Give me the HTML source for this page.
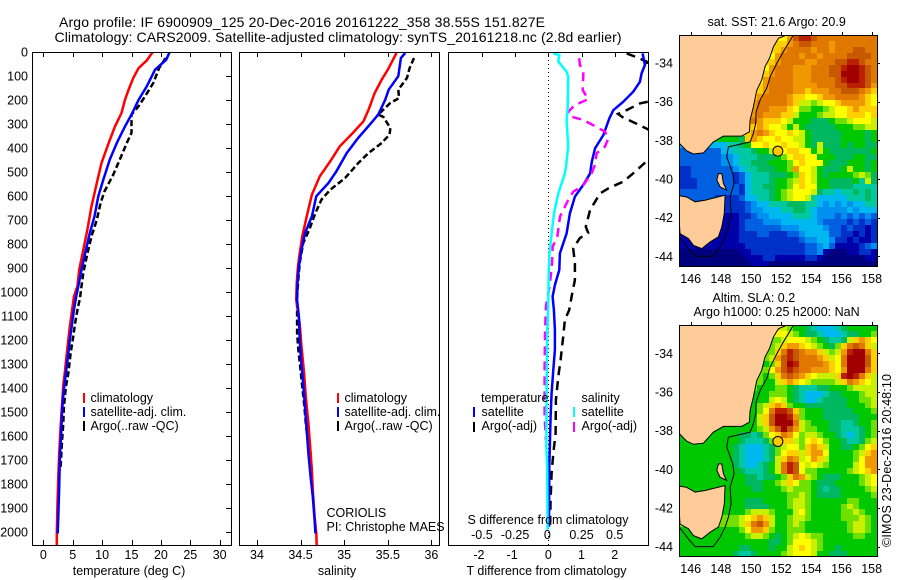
<!DOCTYPE html>
<html>
<head>
<meta charset="utf-8">
<title>Argo profile</title>
<style>
html,body{margin:0;padding:0;background:#fff;}
svg{display:block;}
text{font-family:"Liberation Sans",sans-serif;font-size:12.5px;fill:#000;}
.title{font-size:14px;}
</style>
</head>
<body>
<svg id="chart" xmlns="http://www.w3.org/2000/svg" width="900" height="580" viewBox="0 0 900 580">
<defs>
<clipPath id="clip-temp"><rect x="33" y="52" width="198" height="493"/></clipPath>
<clipPath id="clip-sal"><rect x="240" y="52" width="199" height="493"/></clipPath>
<clipPath id="clip-diff"><rect x="449" y="52" width="199" height="493"/></clipPath>
<clipPath id="clip-sst"><rect x="679" y="35" width="198" height="232"/></clipPath>
<clipPath id="clip-sla"><rect x="679" y="325" width="198" height="232"/></clipPath>
</defs>
<text class="title" x="59" y="27" textLength="486">Argo profile: IF 6900909_125 20-Dec-2016 20161222_358 38.55S 151.827E</text>
<text class="title" x="54.5" y="42" textLength="567">Climatology: CARS2009. Satellite-adjusted climatology: synTS_20161218.nc (2.8d earlier)</text>

<g id="layer-heat"></g>
<g id="layer-series"></g>

<rect x="32.5" y="52.5" width="199" height="493" fill="none" stroke="#000" stroke-width="1"/>
<rect x="239.5" y="52.5" width="200" height="493" fill="none" stroke="#000" stroke-width="1"/>
<rect x="448.5" y="52.5" width="200" height="493" fill="none" stroke="#000" stroke-width="1"/>
<rect x="679.5" y="35.5" width="198" height="231" fill="none" stroke="#000" stroke-width="1"/>
<rect x="679.5" y="325.5" width="198" height="231" fill="none" stroke="#000" stroke-width="1"/>
<g id="layer-axes"></g>

<text x="129" y="575" text-anchor="middle">temperature (deg C)</text>
<text x="337" y="575" text-anchor="middle">salinity</text>
<text x="466.5" y="575">T difference from climatology</text>
<text x="467.5" y="524">S difference from climatology</text>

<g>
<rect x="83" y="393" width="2" height="10" fill="#f00"/>
<text x="90.5" y="402">climatology</text>
<rect x="83" y="407" width="2" height="10" fill="#00f"/>
<text x="90.5" y="416">satellite-adj. clim.</text>
<rect x="83" y="421" width="2" height="10" fill="#000"/>
<text x="90.5" y="430">Argo(..raw -QC)</text>
</g>
<g>
<rect x="337" y="393" width="2" height="10" fill="#f00"/>
<text x="344.5" y="402">climatology</text>
<rect x="337" y="407" width="2" height="10" fill="#00f"/>
<text x="344.5" y="416">satellite-adj. clim.</text>
<rect x="337" y="421" width="2" height="10" fill="#000"/>
<text x="344.5" y="430">Argo(..raw -QC)</text>
</g>
<text x="326.5" y="517">CORIOLIS</text>
<text x="326.5" y="531">PI: Christophe MAES</text>
<g>
<text x="481" y="402">temperature</text>
<rect x="473" y="407" width="2" height="10" fill="#00f"/>
<text x="481.5" y="416">satellite</text>
<rect x="473" y="422" width="2" height="10" fill="#000"/>
<text x="481.5" y="430">Argo(-adj)</text>
<text x="581.5" y="402">salinity</text>
<rect x="573" y="407" width="2" height="10" fill="#0ff"/>
<text x="581.5" y="416">satellite</text>
<rect x="573" y="422" width="2" height="10" fill="#f0f"/>
<text x="581.5" y="430">Argo(-adj)</text>
</g>

<text x="707.5" y="26">sat. SST: 21.6 Argo: 20.9</text>
<text x="712.5" y="302">Altim. SLA: 0.2</text>
<text x="693.5" y="316">Argo h1000: 0.25 h2000: NaN</text>
<text transform="translate(891,547) rotate(-90)" textLength="173">©IMOS 23-Dec-2016 20:48:10</text>
</svg>

<script>
var depthTicks = [0,100,200,300,400,500,600,700,800,900,1000,1100,1200,1300,1400,1500,1600,1700,1800,1900,2000];
var tempTicks = [0,5,10,15,20,25,30];
var salTicks = [34,34.5,35,35.5,36];
var salTickLabels = ["34","34.5","35","35.5","36"];
var tDiffTicks = [-2,-1,0,1,2];
var sDiffTicks = [-0.5,-0.25,0,0.25,0.5];
var sDiffTickLabels = ["-0.5","-0.25","0","0.25","0.5"];
var lonTicks = [146,148,150,152,154,156,158];
var latTicks = [34,36,38,40,42,44];

var tempClimD = [0,35,67,108,157,199,254,310,380,463,546,643,740,824,907,976,1019,1075,1144,1200,1256,1325,1388,1464,1561,1672,1769,1894,2005,2054];
var tempClimV = [18.6,17.6,16.2,15.3,14.5,13.9,13.3,12.2,11.1,9.9,9.1,8.2,7.5,6.8,6.1,5.8,5.2,4.9,4.5,4.25,4.0,3.7,3.4,3.2,2.95,2.7,2.55,2.4,2.3,2.3];
var tempSatD = [0,32,74,143,199,261,310,379,449,532,601,685,754,824,907,976,1025,1075,1131,1200,1256,1339,1408,1492,1589,1700,1811,1936,2006];
var tempSatV = [21.5,20.9,19,17.6,16.2,15,13.9,12.5,11.3,10.2,9.35,8.7,7.9,7.25,6.5,5.95,5.55,5.2,4.9,4.5,4.25,3.85,3.5,3.2,3.05,2.8,2.7,2.55,2.45];
var tempArgoD = [25,67,129,185,226,261,337,379,449,511,581,629,699,768,851,921,976,1025,1075,1131,1200,1256,1339,1394,1478,1547,1617,1686,1742];
var tempArgoV = [20.8,19.7,18.7,17.3,16.2,15,15,14.2,13,11.9,10.4,9.75,9.1,8.2,7.4,6.8,6.5,6.25,5.8,5.4,5,4.65,4.25,3.85,3.5,3.4,3.2,3.05,2.9];

var salClimD = [4,32,74,115,171,240,289,337,393,456,518,594,685,768,838,893,963,1032,1131,1228,1339,1436,1492,1547,1645,1742,1825,1936,2006,2056];
var salClimV = [35.6,35.56,35.5,35.43,35.35,35.28,35.22,35.1,34.95,34.84,34.72,34.63,34.57,34.52,34.49,34.47,34.455,34.45,34.49,34.51,34.54,34.56,34.575,34.59,34.61,34.63,34.64,34.66,34.68,34.685];
var salSatD = [4,25,101,157,199,261,296,358,421,497,546,601,685,754,824,893,963,1032,1103,1200,1283,1381,1478,1575,1672,1770,1853,1950,2006];
var salSatV = [35.7,35.65,35.62,35.51,35.47,35.39,35.31,35.16,35.03,34.91,34.82,34.68,34.63,34.55,34.51,34.48,34.465,34.46,34.48,34.49,34.505,34.53,34.55,34.57,34.59,34.615,34.64,34.66,34.67];
var salArgoD = [25,67,108,157,192,212,261,271,317,344,379,421,463,525,574,615,671,740,796,879,963,1025,1103,1172,1242,1311,1381,1464,1547,1645,1742];
var salArgoV = [35.8,35.75,35.72,35.62,35.63,35.53,35.39,35.45,35.53,35.52,35.43,35.28,35.16,35.01,34.84,34.74,34.67,34.6,34.53,34.49,34.47,34.46,34.46,34.46,34.475,34.495,34.515,34.54,34.56,34.59,34.615];

var diffTSatD = [6,54,89,124,165,207,242,276,346,401,457,506,554,603,672,756,839,908,971,1019,1075,1158,1241,1325,1422,1519,1616,1728,1978];
var diffTSatV = [2.84,2.91,2.81,2.76,2.56,2.26,1.96,1.84,1.66,1.41,1.31,1.26,1.05,0.8,0.65,0.55,0.35,0.33,0.2,0.13,0.17,0.2,0.2,0.15,0.1,0.07,0.05,0.03,0.02];
var diffTArgoD = [6,19,40,54,117,207,214,242,258,272,286,322,388,450,499,540,568,589,658,728,753,776,818,881,950,1006,1075,1116,1186,1283,1352,1450,1589,1672,1755,1866,1978];
var diffTArgoV = [2.36,2.61,2.96,3.0,3.5,3.0,2.76,2.36,2.1,2.24,2.46,3.0,3.6,3.0,2.61,2.26,1.81,1.56,1.26,1.13,1.2,0.95,0.75,0.8,0.8,0.72,0.63,0.5,0.45,0.37,0.3,0.23,0.22,0.15,0.1,0.07,0.05];
var diffSSatD = [6,13,40,82,103,228,283,394,478,506,589,672,756,839,922,1033,1172,1380,1644,1728,1991];
var diffSSatV = [0.038,0.083,0.075,0.138,0.15,0.146,0.138,0.15,0.133,0.125,0.075,0.043,0.025,0.008,0.003,0,-0.008,-0.012,-0.015,-0.008,-0.005];
var diffSArgoD = [26,54,82,158,197,221,249,267,283,332,360,394,422,471,506,554,582,617,658,686,769,811,881,964,1061,1172,1311,1519,1616];
var diffSArgoV = [0.233,0.238,0.264,0.259,0.3,0.2,0.15,0.158,0.264,0.427,0.452,0.427,0.364,0.351,0.326,0.264,0.188,0.15,0.113,0.088,0.068,0.033,0.028,0.013,-0.018,-0.025,-0.028,-0.028,-0.018];

var heatLevels = ["0","1","2","3","4","5","6","7","8","9","a","b","c","d","e","f","g","h"];
var heatColours = ["#00007f","#0000a8","#0030c8","#0060e0","#0090f0","#00b8f0","#00c8a0","#00b860","#00c800","#70e000","#c8f000","#ffff00","#ffd000","#f09800","#e07800","#c85800","#b82000","#a00000"];

var sstGrid = [
".................bdfggfeeeeeeeeee",
".................cdeffeeedeeeeeee",
"................cdeeeedeedeeeffee",
"...............bdeeedeedeeeeffffe",
"...............cdeeeeddeeeffggfee",
"..............bdeeedddeeeffghhgfe",
"..............cdeeedddeeeffhhhgfe",
".............bdeeeedddeeeefghhgfe",
".............cdeeeeddddeeeffgggfd",
"............bcdeeeeddcdddeefffedc",
"............cdeeeedccbbcddeeeedcb",
"...........bdeeeeedcaa9abbcddddcb",
"...........cdeedddcb99889abbcdccc",
"...........ddedddcca8889aabbcccbc",
"..........bdedcccba888777899abbba",
"..........bccdcbba8a87777788899aa",
".........abcdedcbbcba877777888878",
".........87cdcbbcbbaa877777888878",
".......56678bbcbbcbba87a777878877",
"......355666788abbccbb8a877777778",
"....33344566677789bccbb8887778877",
"3333333445667778889bcbbb877788878",
"2233333334566777889dbba87778a8878",
"22333333323566677789cba8788889a97",
"2223333332356667889acba88777786a7",
"2223333333256677889bcbb8877776666",
"3333333.3325666789abbba7665667676",
"333333222235566789abba65555566676",
".........223455666777665454545566",
".........223445556677654444454555",
".........122344555566654443434343",
".........123334445555554333323232",
".........123333334445555433232212",
".........122233222334555533221212",
".........122222222223445542212112",
".........112222222222334531111234",
"000000000011222222222334100011221",
"000000000001112211111221000000011",
"000000000000111000000000000000000"
];

var slaGrid = [
".................a988765556788888",
".................ba98776555677889",
"................9abbba987667acdcb",
"...............9acddcba9879cefeca",
"...............9cegfeddca9adghhec",
"..............9adfgfeeedcabehhhfc",
"..............89cfhgeeeedcbehhhfc",
"..............9bdfgfeedddcbdhhhec",
".............989cefedcbaaacghgeca",
".............988acdcba9999acedcba",
"............98889987666778889aaaa",
"............8889998765556778889aa",
"............888aba87655677778899a",
"...........889acdc98877777778889a",
"...........889beggfc9888777778889",
"...........88acfhhgd9888777777888",
"...........88acfhhhea988877667889",
"88888888888889adfhfda998877666789",
"888888888877679bcedb9aa9887656789",
"8888888888766679acca9bcb98876679a",
"88888888876555679abb9cdca887789bc",
"88888888876555679bccacddb88889acd",
"8888888887655567acedabdca88889bdd",
"8888888887655678aegfbaba98888abdd",
"8888888888766678aegfb99888889abcd",
"888888888887767789ceda987778889abc",
"88888888888777889acb99877788889ab",
".........888778889a9998767788889a",
".........88888888899a987777888889",
".........8877788889aa988888899888",
".........8877778889aa9888889a9888",
".........889aaa9888ab98888899a988",
".........9abcdca889aa988888999a98",
".........9acefda889a988888889aa98",
".........89bddc98899988888889aa98",
".........889aa98789aba99888889988",
"8888888888888887789bbba9888888888",
"888888888877888788abcba9887888888",
"888888888766788889abbba8877788888"
];

var mainlandLon = [145.25,152.37,151.82,151.49,151.22,150.93,150.71,150.38,150.16,149.94,149.89,149.38,148.17,147.5,146.84,146.18,145.73,145.25];
var mainlandLat = [32.55,32.55,32.72,33.15,33.76,34.19,34.88,35.4,36.26,36.95,37.56,37.78,37.78,38.08,38.65,38.71,38.54,38.16];
var tasmaniaLon = [145.25,145.73,146.29,146.95,148.28,148.23,148.06,147.84,147.28,146.73,146.18,145.85,145.29,145.25];
var tasmaniaLat = [40.87,40.93,41.18,41.1,40.84,41.79,42.48,42.99,43.26,43.6,43.43,43.08,42.83,42.31];
var flindersLon = [147.84,148.06,148.17,148.39,147.95,147.73];
var flindersLat = [39.72,39.72,40.23,40.58,40.41,40.06];
var contourLon = [152.81,152.48,152.15,151.71,151.27,151.04,150.6,150.34,150.31,150.16,149.94,149.27,148.5,148.39,148.79,148.88,148.61,148.68,148.5,148.28,147.95,147.5,146.29,145.85,145.25];
var contourLat = [32.55,32.98,33.41,34.02,34.71,35.31,35.92,36.52,37.13,37.64,38.08,38.2,38.34,38.85,39.72,40.23,40.93,41.79,42.48,43.0,43.52,44.0,44.0,43.6,43.0];
var argoLon = 151.78;
var argoLat = 38.56;

var NS = "http://www.w3.org/2000/svg";
var heatLayer = document.getElementById("layer-heat");
var seriesLayer = document.getElementById("layer-series");
var axesLayer = document.getElementById("layer-axes");

function yDepth(d){ return 52 + d * 0.24; }
function xTemp(t){ return 43.3 + t * 5.88; }
function xSal(s){ return 257 + (s - 34) * 87.2; }
function xDiffT(t){ return 548.3 + t * 33.2; }
function xDiffS(s){ return 548.3 + s * 132.8; }
function xLon(lon){ return 690.7 + (lon - 146) * 15.08; }
function yLatSst(lat){ return 63 + (lat - 34) * 19.33; }
function yLatSla(lat){ return 353.3 + (lat - 34) * 19.33; }

function tickMark(x1, y1, x2, y2){
  var el = document.createElementNS(NS, "line");
  el.setAttribute("x1", x1);
  el.setAttribute("y1", y1);
  el.setAttribute("x2", x2);
  el.setAttribute("y2", y2);
  el.setAttribute("stroke", "#000");
  el.setAttribute("stroke-width", "1");
  el.setAttribute("shape-rendering", "crispEdges");
  
  
  axesLayer.appendChild(el);
}
function tickLabel(x, y, str, anchor){
  var el = document.createElementNS(NS, "text");
  el.setAttribute("x", x);
  el.setAttribute("y", y);
  el.setAttribute("text-anchor", anchor);
  el.textContent = str;
  
  
  axesLayer.appendChild(el);
}
function profile(depths, values, xf, colour, dash, width, clip, name){
  var pts = [];
  for (var i = 0; i < depths.length; i++) {
    pts.push(xf(values[i]).toFixed(1) + "," + yDepth(depths[i]).toFixed(1));
  }
  var el = document.createElementNS(NS, "polyline");
  el.setAttribute("points", pts.join(" "));
  el.setAttribute("fill", "none");
  el.setAttribute("stroke", colour);
  el.setAttribute("stroke-width", width);
  if (dash) { el.setAttribute("stroke-dasharray", dash); }
  el.setAttribute("clip-path", "url(#" + clip + ")");
  
  
  seriesLayer.appendChild(el);
}
function polyPoints(lons, lats, yf){
  var pts = [];
  for (var i = 0; i < lons.length; i++) {
    pts.push(xLon(lons[i]).toFixed(1) + "," + yf(lats[i]).toFixed(1));
  }
  return pts.join(" ");
}
function landShape(lons, lats, yf, clip, name){
  var el = document.createElementNS(NS, "polygon");
  el.setAttribute("points", polyPoints(lons, lats, yf));
  el.setAttribute("fill", "#ffcc99");
  el.setAttribute("stroke", "#000");
  el.setAttribute("stroke-width", "1");
  el.setAttribute("clip-path", "url(#" + clip + ")");
  
  
  heatLayer.appendChild(el);
}
function drawMap(grid, top, yf, clip){
  var cw = 6, ch = 231.7 / grid.length;
  for (var r = 0; r < grid.length; r++) {
    var row = grid[r];
    var fillChar = row.replace(/\./g, "").charAt(0);
    for (var c = 0; c < 33; c++) {
      var ch0 = row.charAt(c);
      var level = heatLevels.indexOf(ch0 === "." || ch0 === "" ? fillChar : ch0);
      var cell = document.createElementNS(NS, "rect");
      var y0 = Math.round(top + r * ch);
      var y1 = Math.round(top + (r + 1) * ch);
      cell.setAttribute("x", 679 + c * cw);
      cell.setAttribute("y", y0);
      cell.setAttribute("width", cw);
      cell.setAttribute("height", y1 - y0);
      cell.setAttribute("fill", heatColours[level]);
      cell.setAttribute("shape-rendering", "crispEdges");
      
      
      heatLayer.appendChild(cell);
    }
  }
  landShape(mainlandLon, mainlandLat, yf, clip, "mainland-australia");
  landShape(tasmaniaLon, tasmaniaLat, yf, clip, "tasmania");
  landShape(flindersLon, flindersLat, yf, clip, "flinders-island");
  var contour = document.createElementNS(NS, "polyline");
  contour.setAttribute("points", polyPoints(contourLon, contourLat, yf));
  contour.setAttribute("fill", "none");
  contour.setAttribute("stroke", "#000");
  contour.setAttribute("stroke-width", "1");
  contour.setAttribute("clip-path", "url(#" + clip + ")");
  
  
  heatLayer.appendChild(contour);
  var dot = document.createElementNS(NS, "circle");
  dot.setAttribute("cx", xLon(argoLon));
  dot.setAttribute("cy", yf(argoLat));
  dot.setAttribute("r", "5");
  dot.setAttribute("fill", "#ffc800");
  dot.setAttribute("stroke", "#000");
  dot.setAttribute("stroke-width", "1");
  
  
  heatLayer.appendChild(dot);
}

drawMap(sstGrid, 35, yLatSst, "clip-sst");
drawMap(slaGrid, 325.3, yLatSla, "clip-sla");

var zeroLine = document.createElementNS(NS, "line");
zeroLine.setAttribute("x1", xDiffT(0));
zeroLine.setAttribute("x2", xDiffT(0));
zeroLine.setAttribute("y1", 52);
zeroLine.setAttribute("y2", 545);
zeroLine.setAttribute("stroke", "#000");
zeroLine.setAttribute("stroke-width", "1");
zeroLine.setAttribute("stroke-dasharray", "1 3");
zeroLine.setAttribute("shape-rendering", "crispEdges");


seriesLayer.appendChild(zeroLine);

profile(tempArgoD, tempArgoV, xTemp, "#000", "6 3", "2.5", "clip-temp", "temperature-argo-line");
profile(tempClimD, tempClimV, xTemp, "#f00", "", "2.5", "clip-temp", "temperature-climatology-line");
profile(tempSatD, tempSatV, xTemp, "#00f", "", "2.5", "clip-temp", "temperature-satellite-line");
profile(salArgoD, salArgoV, xSal, "#000", "6 3", "2.5", "clip-sal", "salinity-argo-line");
profile(salClimD, salClimV, xSal, "#f00", "", "2.5", "clip-sal", "salinity-climatology-line");
profile(salSatD, salSatV, xSal, "#00f", "", "2.5", "clip-sal", "salinity-satellite-line");
profile(diffTArgoD, diffTArgoV, xDiffT, "#000", "9 6", "2.5", "clip-diff", "t-difference-argo-line");
profile(diffTSatD, diffTSatV, xDiffT, "#00f", "", "2.5", "clip-diff", "t-difference-satellite-line");
profile(diffSArgoD, diffSArgoV, xDiffS, "#f0f", "9 6", "2.5", "clip-diff", "s-difference-argo-line");
profile(diffSSatD, diffSSatV, xDiffS, "#0ff", "", "2.5", "clip-diff", "s-difference-satellite-line");

depthTicks.forEach(function(d){
  var y = Math.round(yDepth(d)) + 0.5;
  tickLabel(28, yDepth(d) + 4.5, String(d), "end");
  tickMark(226, y, 231, y);
});
tempTicks.forEach(function(t){
  var x = Math.round(xTemp(t)) + 0.5;
  tickMark(x, 52, x, 57);
  tickMark(x, 540, x, 545);
  tickLabel(xTemp(t), 559, String(t), "middle");
});
salTicks.forEach(function(s, i){
  var x = Math.round(xSal(s)) + 0.5;
  tickMark(x, 52, x, 57);
  tickMark(x, 540, x, 545);
  tickLabel(xSal(s), 559, salTickLabels[i], "middle");
});
tDiffTicks.forEach(function(t){
  var x = Math.round(xDiffT(t)) + 0.5;
  tickMark(x, 52, x, 57);
  tickLabel(xDiffT(t) - (t < 0 ? 3 : 0), 559, String(t), "middle");
});
sDiffTicks.forEach(function(s, i){
  tickLabel(xDiffS(s) - (s === 0 ? 1 : 0), 539, sDiffTickLabels[i], "middle");
});
lonTicks.forEach(function(lon){
  var x = Math.round(xLon(lon)) + 0.5;
  tickMark(x, 32, x, 35);
  tickMark(x, 322, x, 325);
  tickLabel(xLon(lon), 283, String(lon), "middle");
  tickLabel(xLon(lon), 573, String(lon), "middle");
});
latTicks.forEach(function(lat){
  var y1 = Math.round(yLatSst(lat)) + 0.5;
  var y2 = Math.round(yLatSla(lat)) + 0.5;
  tickMark(877, y1, 880, y1);
  tickMark(877, y2, 880, y2);
  tickLabel(673, yLatSst(lat) + 4.5, "-" + lat, "end");
  tickLabel(673, yLatSla(lat) + 4.5, "-" + lat, "end");
});
</script>
</body>
</html>
